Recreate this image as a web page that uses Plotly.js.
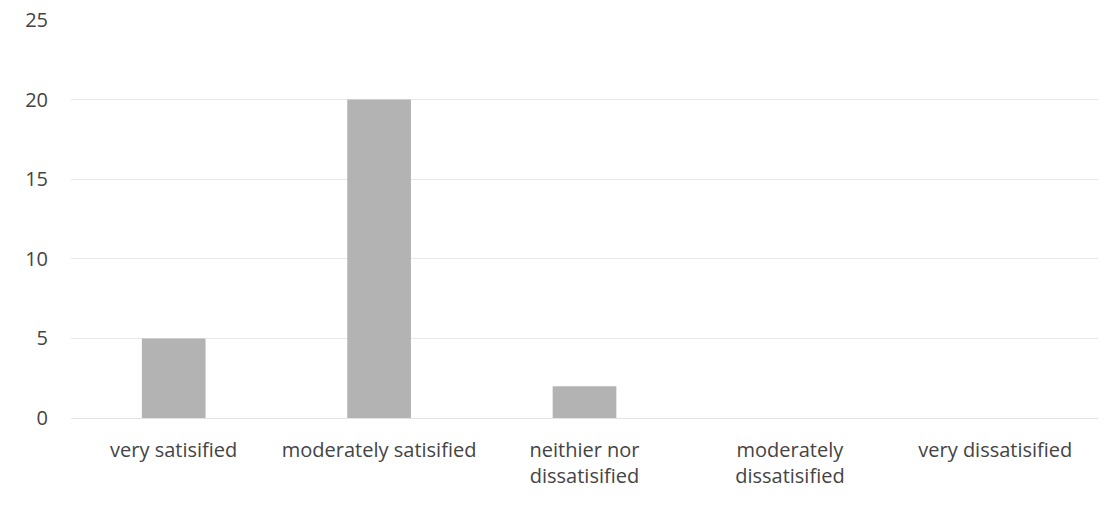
<!DOCTYPE html>
<html>
<head>
<meta charset="utf-8">
<script src="https://cdn.plot.ly/plotly-3.0.1.min.js"></script>
<style>html,body{margin:0;padding:0;background:#fff;}#chart{width:1120px;height:508px;}</style>
</head>
<body>
<div id="chart"></div>
<script>
var categories = ["very satisified", "moderately satisified", "neithier nor<br>dissatisified", "moderately<br>dissatisified", "very dissatisified"];
var counts = [5, 20, 2, 0, 0];
var yTicks = [0, 5, 10, 15, 20, 25];

var trace = {
  type: "bar",
  x: categories,
  y: counts,
  marker: {color: "#b3b3b3", line: {width: 0}},
  hoverinfo: "x+y"
};

var layout = {
  width: 1120,
  height: 508,
  margin: {l: 71, r: 22, t: 20, b: 90},
  paper_bgcolor: "#ffffff",
  plot_bgcolor: "#ffffff",
  bargap: 0.69,
  showlegend: false,
  font: {family: "Open Sans, sans-serif", size: 20, color: "#444444"},
  xaxis: {
    type: "category",
    showgrid: false,
    zeroline: false,
    showline: false,
    ticks: "outside",
    ticklen: 14,
    tickcolor: "rgba(0,0,0,0)",
    tickfont: {size: 20, color: "#444444"}
  },
  yaxis: {
    range: [0, 25],
    tickvals: yTicks,
    showgrid: true,
    gridcolor: "#e8e8e8",
    gridwidth: 1,
    zeroline: true,
    zerolinecolor: "#e3e3e3",
    showline: false,
    ticks: "outside",
    ticklen: 18,
    tickcolor: "rgba(0,0,0,0)",
    tickfont: {size: 20, color: "#444444"}
  }
};

Plotly.newPlot("chart", [trace], layout, {displayModeBar: false, staticPlot: true});
</script>
</body>
</html>
